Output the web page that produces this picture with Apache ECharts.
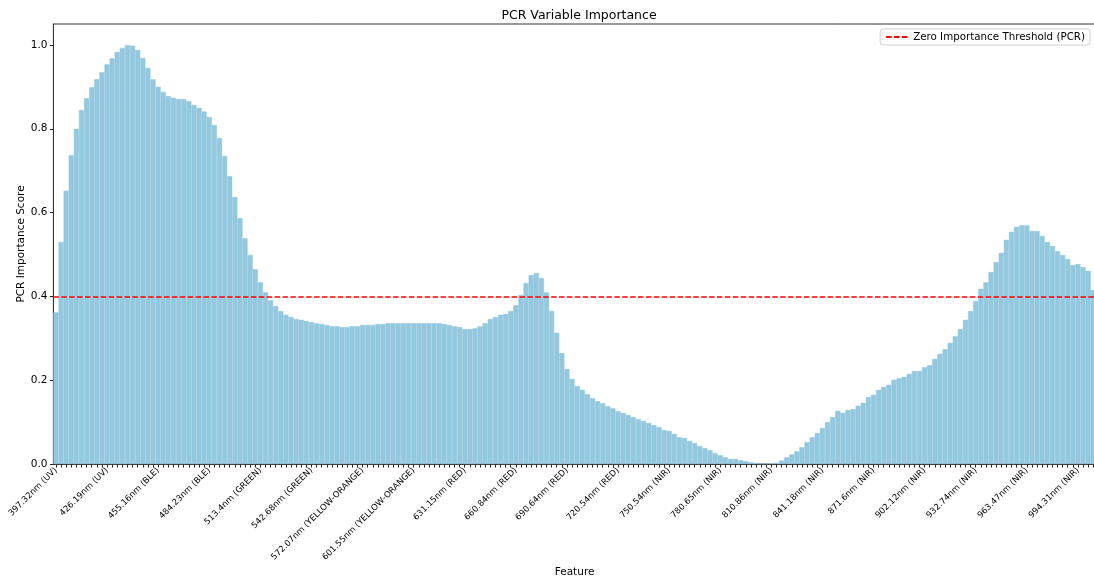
<!DOCTYPE html>
<html>
<head>
<meta charset="utf-8">
<script src="https://cdn.jsdelivr.net/npm/echarts@6/dist/echarts.min.js"></script>
<style>
html,body{margin:0;padding:0;background:#fff;}
#chart{width:1094px;height:583px;}
</style>
</head>
<body>
<div id="chart"></div>
<script>
const tickLabels = [
  '397.32nm (UV)', '426.19nm (UV)', '455.16nm (BLE)', '484.23nm (BLE)', '513.4nm (GREEN)',
  '542.68nm (GREEN)', '572.07nm (YELLOW-ORANGE)', '601.55nm (YELLOW-ORANGE)', '631.15nm (RED)',
  '660.84nm (RED)', '690.64nm (RED)', '720.54nm (RED)', '750.54nm (NIR)', '780.65nm (NIR)',
  '810.86nm (NIR)', '841.18nm (NIR)', '871.6nm (NIR)', '902.12nm (NIR)', '932.74nm (NIR)',
  '963.47nm (NIR)', '994.31nm (NIR)'
];

const importance = [
  0.362, 0.530, 0.652, 0.737, 0.800, 0.845, 0.873, 0.899, 0.918, 0.935,
  0.954, 0.968, 0.983, 0.993, 1.000, 0.998, 0.988, 0.969, 0.945, 0.918,
  0.900, 0.888, 0.878, 0.874, 0.871, 0.871, 0.866, 0.857, 0.850, 0.841,
  0.828, 0.809, 0.778, 0.735, 0.687, 0.637, 0.587, 0.539, 0.499, 0.465,
  0.434, 0.410, 0.391, 0.377, 0.365, 0.356, 0.351, 0.346, 0.344, 0.341,
  0.339, 0.336, 0.334, 0.332, 0.329, 0.329, 0.327, 0.327, 0.329, 0.329,
  0.332, 0.332, 0.332, 0.334, 0.334, 0.336, 0.336, 0.336, 0.336, 0.336,
  0.336, 0.336, 0.336, 0.336, 0.336, 0.336, 0.334, 0.332, 0.329, 0.327,
  0.322, 0.322, 0.324, 0.329, 0.336, 0.346, 0.351, 0.356, 0.358, 0.365,
  0.379, 0.403, 0.432, 0.451, 0.456, 0.444, 0.410, 0.365, 0.313, 0.265,
  0.227, 0.203, 0.186, 0.177, 0.167, 0.157, 0.150, 0.145, 0.138, 0.133,
  0.126, 0.122, 0.117, 0.112, 0.107, 0.103, 0.098, 0.093, 0.088, 0.081,
  0.079, 0.072, 0.064, 0.062, 0.055, 0.050, 0.043, 0.038, 0.033, 0.026,
  0.021, 0.016, 0.012, 0.012, 0.009, 0.007, 0.004, 0.002, 0.001, 0.001,
  0.002, 0.003, 0.008, 0.016, 0.023, 0.030, 0.040, 0.052, 0.064, 0.074,
  0.086, 0.100, 0.112, 0.127, 0.122, 0.129, 0.131, 0.139, 0.146, 0.160,
  0.165, 0.177, 0.184, 0.189, 0.201, 0.205, 0.208, 0.215, 0.222, 0.222,
  0.231, 0.236, 0.251, 0.263, 0.274, 0.289, 0.305, 0.322, 0.344, 0.365,
  0.389, 0.418, 0.434, 0.458, 0.482, 0.504, 0.535, 0.554, 0.566, 0.570,
  0.570, 0.556, 0.556, 0.544, 0.530, 0.520, 0.508, 0.499, 0.489, 0.475,
  0.477, 0.470, 0.461, 0.415
];

const threshold = 0.404;
const yTicks = [0, 0.2, 0.4, 0.6, 0.8, 1.0];
const labelEvery = 10;

const categories = importance.map((_, i) => String(i));

const font = 'DejaVu Sans';
const barColor = '#93c8de';
const chart = echarts.init(document.getElementById('chart'), null, {renderer: 'canvas'});
chart.setOption({
  animation: false,
  backgroundColor: '#ffffff',
  textStyle: {fontFamily: font},
  title: {
    text: 'PCR Variable Importance',
    left: 574, top: 4, textAlign: 'center',
    textStyle: {fontFamily: font, fontSize: 12.5, fontWeight: 'normal', color: '#000'}
  },
  legend: {
    right: 4, top: 29,
    itemWidth: 22, itemHeight: 10,
    padding: [3, 5, 3, 5],
    backgroundColor: '#fff',
    borderColor: '#d0d0d0', borderWidth: 1, borderRadius: 3,
    textStyle: {fontFamily: font, fontSize: 10.3, color: '#000'},
    data: [{name: 'Zero Importance Threshold (PCR)', itemStyle: {opacity: 0}}]
  },
  grid: {
    left: 53.4, right: -1.8, top: 24, bottom: 119,
    outerBoundsMode: 'none',
    show: true, borderColor: '#333', borderWidth: 1, backgroundColor: 'transparent',
    containLabel: false
  },
  xAxis: {
    type: 'category',
    data: categories,
    name: 'Feature',
    nameLocation: 'middle',
    nameGap: 103,
    nameMoveOverlap: false,
    nameTextStyle: {fontFamily: font, fontSize: 10.5, color: '#000'},
    axisLine: {lineStyle: {color: '#333', width: 1}},
    axisTick: {show: true, interval: 0, alignWithLabel: true, length: 3.5, lineStyle: {color: '#222'}},
    axisLabel: {
      interval: labelEvery - 1,
      rotate: 45,
      margin: 5,
      fontFamily: font, fontSize: 8.5, color: '#000',
      formatter: (v, idx) => (idx % labelEvery === 0 ? (tickLabels[idx / labelEvery] || '') : '')
    },
    splitLine: {show: false}
  },
  yAxis: {
    type: 'value',
    min: 0, max: 1.05,
    name: 'PCR Importance Score',
    nameLocation: 'middle',
    nameGap: 27,
    nameMoveOverlap: false,
    nameTextStyle: {fontFamily: font, fontSize: 10.5, color: '#000'},
    axisLine: {show: true, lineStyle: {color: '#333', width: 1}},
    axisTick: {show: true, length: 3.5, lineStyle: {color: '#222'}, customValues: yTicks},
    axisLabel: {
      fontFamily: font, fontSize: 10.5, color: '#000', margin: 6,
      customValues: yTicks,
      formatter: v => v.toFixed(1)
    },
    splitLine: {show: false}
  },
  series: [
    {
      name: 'PCR Importance',
      type: 'bar',
      data: importance,
      barWidth: '100%',
      barCategoryGap: '0%',
      itemStyle: {color: barColor, borderColor: barColor, borderWidth: 0.5},
      silent: true
    },
    {
      name: 'Zero Importance Threshold (PCR)',
      type: 'line',
      data: [],
      symbol: 'none',
      color: '#ff0000',
      lineStyle: {color: '#ff0000', type: [5.5, 2.4], width: 1.5},
      itemStyle: {color: '#ff0000'},
      markLine: {
        silent: true,
        symbol: ['none', 'none'],
        label: {show: false},
        lineStyle: {color: '#ff0000', type: [5.5, 2.4], width: 1.5},
        data: [{yAxis: threshold}]
      },
      z: 5
    }
  ]
});
</script>
</body>
</html>
